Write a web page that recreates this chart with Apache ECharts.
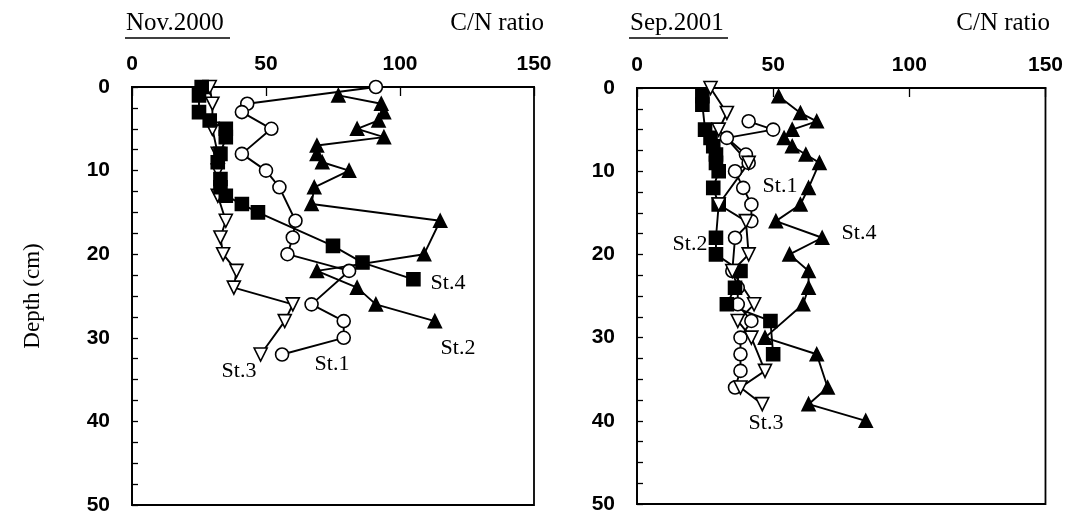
<!DOCTYPE html>
<html><head><meta charset="utf-8">
<script src="https://cdn.jsdelivr.net/npm/echarts@6/dist/echarts.min.js"></script>
<style>html,body{margin:0;padding:0;background:#fff}#c{width:1066px;height:518px}</style>
</head><body><div id="c"></div>
<script>
// ---- tick labels ----
const xTickLabels = [0, 50, 100, 150];
const yTickLabels = [0, 10, 20, 30, 40, 50];

// ---- Nov.2000 ----
const novSt1Depth = [0, 2, 3, 5, 8, 10, 12, 16, 18, 20, 22, 26, 28, 30, 32];
const novSt1CN    = [91, 43, 41, 52, 41, 50, 55, 61, 60, 58, 81, 67, 79, 79, 56];
const novSt2Depth = [1, 2, 3, 4, 5, 6, 7, 8, 9, 10, 12, 14, 16, 20, 22, 24, 26, 28];
const novSt2CN    = [77, 93, 94, 92, 84, 94, 69, 69, 71, 81, 68, 67, 115, 109, 69, 84, 91, 113];
const novSt3Depth = [0, 2, 5, 8, 10, 13, 16, 18, 20, 22, 24, 26, 28, 32];
const novSt3CN    = [29, 30, 30, 32, 32, 32, 35, 33, 34, 39, 38, 60, 57, 48];
const novSt4Depth = [0, 1, 3, 4, 5, 6, 8, 9, 11, 12, 13, 14, 15, 19, 21, 23];
const novSt4CN    = [26, 25, 25, 29, 35, 35, 33, 32, 33, 33, 35, 41, 47, 75, 86, 105];

// ---- Sep.2001 ----
const sepSt1Depth = [4, 5, 6, 8, 9, 10, 12, 14, 16, 18, 22, 24, 26, 28, 30, 32, 34, 36];
const sepSt1CN    = [41, 50, 33, 40, 41, 36, 39, 42, 42, 36, 35, 37, 37, 42, 38, 38, 38, 36];
const sepSt2Depth = [1, 2, 5, 6, 7, 8, 9, 10, 12, 14, 18, 20, 22, 24, 26, 28, 32];
const sepSt2CN    = [24, 24, 25, 27, 28, 29, 29, 30, 28, 30, 29, 29, 38, 36, 33, 49, 50];
const sepSt3Depth = [0, 3, 5, 9, 14, 16, 20, 22, 26, 28, 30, 34, 36, 38];
const sepSt3CN    = [27, 33, 30, 41, 30, 40, 41, 35, 43, 37, 42, 47, 38, 46];
const sepSt4Depth = [1, 3, 4, 5, 6, 7, 8, 9, 12, 14, 16, 18, 20, 22, 24, 26, 30, 32, 36, 38, 40];
const sepSt4CN    = [52, 60, 66, 57, 54, 57, 62, 67, 63, 60, 51, 68, 56, 63, 63, 61, 47, 66, 70, 63, 84];

const pairs = (cn, d) => cn.map((v, i) => [v, d[i]]);

const SERIF = '"Liberation Serif","Times New Roman",serif';
const SANS = '"Liberation Sans",Arial,sans-serif';

const styles = {
  openCircle: { symbol: 'circle', rot: 0, fill: '#fff' },
  fillTri:    { symbol: 'triangle', rot: 0, fill: '#000' },
  openTriDown:{ symbol: 'triangle', rot: 180, fill: '#fff' },
  fillSquare: { symbol: 'rect', rot: 0, fill: '#000' }
};

function mk(name, data, st, idx) {
  return {
    name, type: 'line', data, xAxisIndex: idx, yAxisIndex: idx,
    symbol: st.symbol, symbolRotate: st.rot, symbolSize: 13,
    showSymbol: true, animation: false,
    lineStyle: { color: '#000', width: 1.9 },
    itemStyle: { color: st.fill, borderColor: '#000', borderWidth: 1.6 },
    z: 3
  };
}

function xAx(idx) {
  return {
    gridIndex: idx, type: 'value', position: 'top', min: 0, max: 150, interval: 50,
    axisLine: { show: true, lineStyle: { color: '#000', width: 1.8 } },
    axisTick: { show: true, inside: true, length: 9, lineStyle: { color: '#000', width: 1.3 } },
    axisLabel: { show: true, margin: 12, color: '#000', fontFamily: SANS, fontWeight: 'bold', fontSize: 21,
      formatter: v => xTickLabels.includes(v) ? String(v) : '' },
    splitLine: { show: false }
  };
}
function yAx(idx, withName) {
  const a = {
    gridIndex: idx, type: 'value', inverse: true, min: 0, max: 50, interval: 2.5,
    axisLine: { show: true, lineStyle: { color: '#000', width: 1.8 } },
    axisTick: { show: true, inside: true, length: 6, lineStyle: { color: '#000', width: 1.3 } },
    axisLabel: { show: true, margin: 22, color: '#000', fontFamily: SANS, fontWeight: 'bold', fontSize: 21,
      formatter: v => yTickLabels.includes(v) ? String(v) : '' },
    splitLine: { show: false }
  };
  if (withName) {
    a.name = 'Depth (cm)';
    a.nameLocation = 'middle';
    a.nameRotate = 90;
    a.nameGap = 88;
    a.nameTextStyle = { fontFamily: SERIF, fontSize: 23, color: '#000' };
  }
  return a;
}

function txt(x, y, s, size, align) {
  return { type: 'text', x, y, style: { text: s, fontFamily: SERIF, fontSize: size, fill: '#000',
    align: align || 'center', verticalAlign: 'middle' }, z: 10 };
}
function uline(x1, x2, y) {
  return { type: 'line', shape: { x1, y1: y, x2, y2: y }, style: { stroke: '#000', lineWidth: 1.3 }, z: 10 };
}

const chart = echarts.init(document.getElementById('c'), null, { renderer: 'canvas' });
chart.setOption({
  backgroundColor: '#fff',
  animation: false,
  grid: [
    { left: 132, top: 87, width: 402, height: 418, show: true, borderColor: '#000', borderWidth: 1.8, backgroundColor: 'transparent' },
    { left: 637, top: 88, width: 410, height: 416, show: true, borderColor: '#000', borderWidth: 1.8, backgroundColor: 'transparent' }
  ],
  xAxis: [xAx(0), xAx(1)],
  yAxis: [yAx(0, true), yAx(1, false)],
  series: [
    mk('Nov St.1', pairs(novSt1CN, novSt1Depth), styles.openCircle, 0),
    mk('Nov St.2', pairs(novSt2CN, novSt2Depth), styles.fillTri, 0),
    mk('Nov St.3', pairs(novSt3CN, novSt3Depth), styles.openTriDown, 0),
    mk('Nov St.4', pairs(novSt4CN, novSt4Depth), styles.fillSquare, 0),
    mk('Sep St.1', pairs(sepSt1CN, sepSt1Depth), styles.openCircle, 1),
    mk('Sep St.2', pairs(sepSt2CN, sepSt2Depth), styles.fillSquare, 1),
    mk('Sep St.3', pairs(sepSt3CN, sepSt3Depth), styles.openTriDown, 1),
    mk('Sep St.4', pairs(sepSt4CN, sepSt4Depth), styles.fillTri, 1)
  ],
  graphic: [
    txt(126, 23, 'Nov.2000', 25, 'left'), uline(125, 230, 38),
    txt(544, 23, 'C/N ratio', 25, 'right'),
    txt(630, 23, 'Sep.2001', 25, 'left'), uline(629, 728, 38),
    txt(1050, 23, 'C/N ratio', 25, 'right'),
    txt(448, 283, 'St.4', 22), txt(458, 348, 'St.2', 22),
    txt(332, 364, 'St.1', 22), txt(239, 371, 'St.3', 22),
    txt(780, 186, 'St.1', 22), txt(859, 233, 'St.4', 22),
    txt(690, 244, 'St.2', 22), txt(766, 423, 'St.3', 22)
  ]
});
</script>
</body></html>
